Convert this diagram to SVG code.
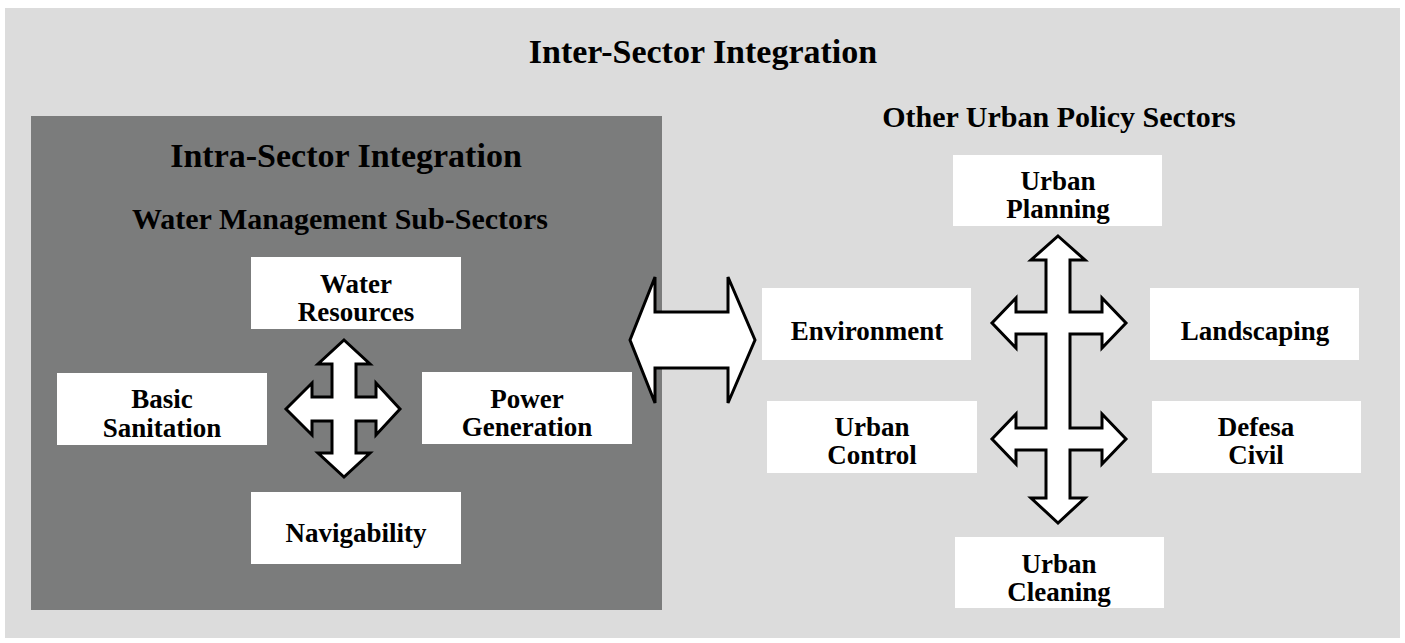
<svg xmlns="http://www.w3.org/2000/svg" width="1405" height="643" viewBox="0 0 1405 643">
<style>
text{font-family:"Liberation Serif","Times New Roman",serif;font-weight:bold;fill:#000;text-anchor:middle}
.t1{font-size:34px}
.t2{font-size:30px}
.bx{font-size:27px}
.box{fill:#fff}
.arr{fill:#fff;stroke:#000;stroke-width:3;stroke-linejoin:miter}
</style>
<rect x="0" y="0" width="1405" height="643" fill="#fff"/>
<rect x="5" y="8" width="1395" height="630" fill="#dcdcdc"/>
<rect x="31" y="116" width="631" height="494" fill="#7b7c7c"/>
<text class="t1" x="703" y="63">Inter-Sector Integration</text>
<text class="t1" x="346" y="167">Intra-Sector Integration</text>
<text class="t2" x="340" y="229">Water Management Sub-Sectors</text>
<text class="t2" x="1059" y="127">Other Urban Policy Sectors</text>
<g id="connectors">
<path class="arr" d="M344,340 L370,364 L356,364 L356,397 L376,397 L376,383 L400,409 L376,435 L376,421 L356,421 L356,453 L370,453 L344,477 L318,453 L332,453 L332,421 L312,421 L312,435 L286,409 L312,383 L312,397 L332,397 L332,364 L318,364 Z"/>
<path class="arr" d="M630,340 L655,277 L655,312 L728,312 L728,277 L755,340 L728,403 L728,368 L655,368 L655,403 Z"/>
<path class="arr" d="M1058,236 L1085,260 L1070,260 L1070,312 L1102,312 L1102,298 L1126,323 L1102,348 L1102,334 L1070,334 L1070,428 L1102,428 L1102,414 L1126,439 L1102,464 L1102,450 L1070,450 L1070,498 L1085,498 L1058,523 L1031,498 L1046,498 L1046,450 L1016,450 L1016,464 L992,439 L1016,414 L1016,428 L1046,428 L1046,334 L1016,334 L1016,348 L992,323 L1016,298 L1016,312 L1046,312 L1046,260 L1031,260 Z"/>
</g>
<g id="water-resources"><rect class="box" x="251" y="257" width="210" height="72"/><text class="bx" x="356" y="293">Water</text><text class="bx" x="356" y="321">Resources</text></g>
<g id="basic-sanitation"><rect class="box" x="57" y="373" width="210" height="72"/><text class="bx" x="162" y="408">Basic</text><text class="bx" x="162" y="437">Sanitation</text></g>
<g id="power-generation"><rect class="box" x="422" y="372" width="210" height="72"/><text class="bx" x="527" y="408">Power</text><text class="bx" x="527" y="436">Generation</text></g>
<g id="navigability"><rect class="box" x="251" y="492" width="210" height="72"/><text class="bx" x="356" y="542">Navigability</text></g>
<g id="urban-planning"><rect class="box" x="953" y="155" width="209" height="71"/><text class="bx" x="1058" y="190">Urban</text><text class="bx" x="1058" y="218">Planning</text></g>
<g id="environment"><rect class="box" x="762" y="288" width="209" height="72"/><text class="bx" x="867" y="340">Environment</text></g>
<g id="landscaping"><rect class="box" x="1150" y="288" width="209" height="72"/><text class="bx" x="1255" y="340">Landscaping</text></g>
<g id="urban-control"><rect class="box" x="767" y="401" width="210" height="72"/><text class="bx" x="872" y="436">Urban</text><text class="bx" x="872" y="464">Control</text></g>
<g id="defesa-civil"><rect class="box" x="1152" y="401" width="209" height="72"/><text class="bx" x="1256" y="436">Defesa</text><text class="bx" x="1256" y="464">Civil</text></g>
<g id="urban-cleaning"><rect class="box" x="955" y="537" width="209" height="71"/><text class="bx" x="1059" y="573">Urban</text><text class="bx" x="1059" y="601">Cleaning</text></g>
</svg>
